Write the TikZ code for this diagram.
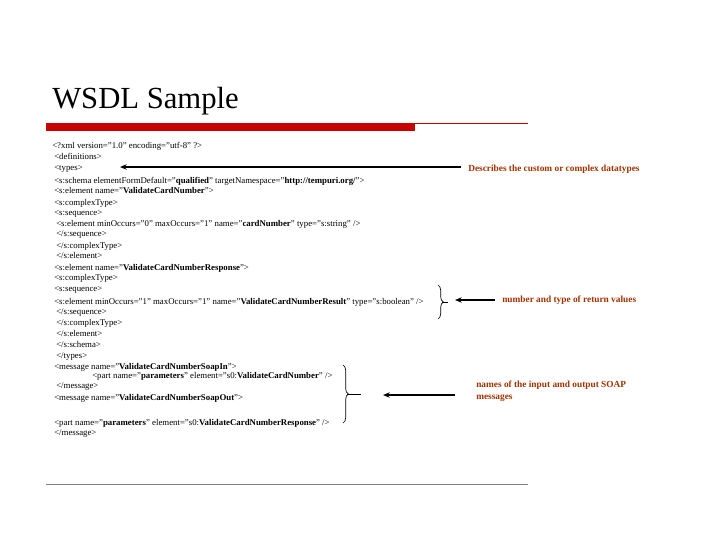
\documentclass[tikz,border=0pt]{standalone}
\usepackage{fontspec}
\setmainfont{Liberation Serif}
\usetikzlibrary{positioning, arrows.meta, decorations.pathreplacing}

\definecolor{barred}{RGB}{200,0,0}
\definecolor{notebrown}{RGB}{160,50,0}

\tikzset{
  codeline/.style={anchor=base west, inner sep=0pt, font=\fontsize{6.6}{7}\selectfont},
  note/.style={anchor=base west, inner sep=0pt, text=notebrown, font=\bfseries\fontsize{7}{8.5}\selectfont, align=left},
  pointer/.style={-{Stealth[length=5pt,width=4pt]}, line width=1.6pt},
  bracket/.style={decorate, decoration={brace, amplitude=4pt}, line width=0.5pt},
}

\begin{document}
\begin{tikzpicture}[x=0.75pt, y=-0.75pt]
\useasboundingbox (0,0) rectangle (720,540);

\node (title) [anchor=base west, inner sep=0pt, font=\fontsize{23}{26}\selectfont] at (52,108) {WSDL Sample};
\fill[barred] (46,123) rectangle (415,131);
\draw[barred, line width=0.6pt] (415,123.5) -- (528,123.5);
\draw[gray, line width=0.6pt] (46,484) -- (528,484);

% code listing
\node (xmlhead) [codeline] at (52,148) {<?xml version="1.0" encoding="utf-8" ?>};
\node (defs) [codeline] at (54,159) {<definitions>};
\node (types) [codeline] at (54,170) {<types>};
\node (schema) [codeline] at (54,183) {<s:schema elementFormDefault="\textbf{qualified}" targetNamespace="\textbf{http://tempuri.org/}">};
\node (elreq) [codeline] at (54,193) {<s:element name="\textbf{ValidateCardNumber}">};
\node (ctreq) [codeline] at (54,205) {<s:complexType>};
\node (seqreq) [codeline] at (54,215) {<s:sequence>};
\node (card) [codeline] at (56,226) {<s:element minOccurs="0" maxOccurs="1" name="\textbf{cardNumber}" type="s:string" />};
\node (seqreqend) [codeline] at (56,236) {</s:sequence>};
\node (ctreqend) [codeline] at (56,248) {</s:complexType>};
\node (elreqend) [codeline] at (56,258) {</s:element>};
\node (elresp) [codeline] at (54,270) {<s:element name="\textbf{ValidateCardNumberResponse}">};
\node (ctresp) [codeline] at (54,280) {<s:complexType>};
\node (seqresp) [codeline] at (54,291) {<s:sequence>};
\node (result) [codeline] at (54,304) {<s:element minOccurs="1" maxOccurs="1" name="\textbf{ValidateCardNumberResult}" type="s:boolean" />};
\node (seqrespend) [codeline] at (56,314) {</s:sequence>};
\node (ctrespend) [codeline] at (56,325) {</s:complexType>};
\node (elrespend) [codeline] at (56,336) {</s:element>};
\node (schemaend) [codeline] at (56,347) {</s:schema>};
\node (typesend) [codeline] at (56,358) {</types>};
\node (msgin) [codeline] at (54,369) {<message name="\textbf{ValidateCardNumberSoapIn}">};
\node (partin) [codeline] at (92,378) {<part name="\textbf{parameters}" element="s0:\textbf{ValidateCardNumber}" />};
\node (msginend) [codeline] at (56,388) {</message>};
\node (msgout) [codeline] at (54,400) {<message name="\textbf{ValidateCardNumberSoapOut}">};
\node (partout) [codeline] at (54,425) {<part name="\textbf{parameters}" element="s0:\textbf{ValidateCardNumberResponse}" />};
\node (msgoutend) [codeline] at (54,435) {</message>};

% notes
\node (typesnote) [note] at (468,171) {Describes the custom or complex datatypes};
\node (resultnote) [note] at (502,302) {number and type of return values};
\node (msgnote) [note] at (476,399) {names of the input amd output SOAP\\messages};

% brackets
\draw[bracket] (438,285) -- (438,319) coordinate[midway] (resultmid);
\draw[bracket] (343,365) -- (343,423) coordinate[midway] (msgmid);
\draw[line width=0.5pt] (resultmid) ++(4,0) -- ++(6,0);
\draw[line width=0.5pt] (msgmid) ++(4,0) -- ++(14,0);
\coordinate (typestip) at (120,167);
\coordinate (resulttip) at (455,300);
\coordinate (msgtip) at (383,395);

% pointers
\draw[pointer] ([xshift=-5pt]typesnote.west |- typestip) -- (typestip);
\draw[pointer] ([xshift=-5pt]resultnote.west |- resulttip) -- (resulttip);
\draw[pointer] ([xshift=-16pt]msgnote.west |- msgtip) -- (msgtip);
\end{tikzpicture}
\end{document}
